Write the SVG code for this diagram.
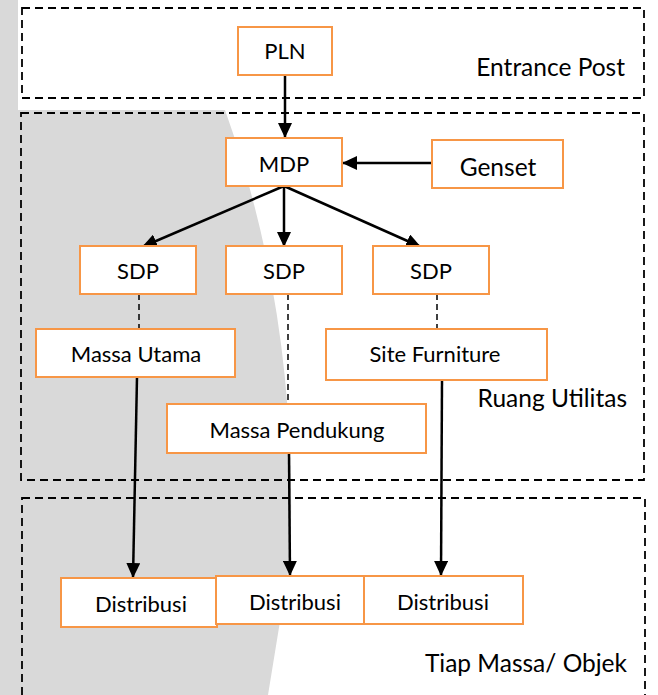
<svg xmlns="http://www.w3.org/2000/svg" width="658" height="695" viewBox="0 0 658 695">
<style>
.box{fill:#ffffff;stroke:#f79646;stroke-width:2}
.zone{fill:none;stroke:#000;stroke-width:1.8;stroke-dasharray:8 5}
.lbl{font-family:Lato,"Liberation Sans",sans-serif;font-size:22px;fill:#000;text-anchor:middle}
.big{font-family:Lato,"Liberation Sans",sans-serif;font-size:24.5px;fill:#000}
.end{text-anchor:end}
.arr{fill:none;stroke:#000;stroke-width:2.5;marker-end:url(#ah)}
.dash{fill:none;stroke:#000;stroke-width:1.5;stroke-dasharray:6 4}
</style>
<defs>
<marker id="ah" markerUnits="userSpaceOnUse" markerWidth="16" markerHeight="14" refX="15" refY="7" orient="auto">
<path d="M0,0 L15,7 L0,14 Z" fill="#000"/>
</marker>
</defs>
<rect x="0" y="0" width="658" height="695" fill="#ffffff"/>
<path id="watermark" d="M0,0 L18,0 L18,110 L225,110 Q300,320 290,560 L268,695 L0,695 Z" fill="#d9d9d9"/>
<g id="zones">
<rect class="zone" x="22" y="8" width="622" height="90"/>
<rect class="zone" x="21" y="113" width="623" height="367"/>
<rect class="zone" x="22" y="498" width="623" height="210"/>
<text class="big end" x="625" y="76">Entrance Post</text>
<text class="big end" x="627" y="407">Ruang Utilitas</text>
<text class="big end" x="627" y="672">Tiap Massa/ Objek</text>
</g>
<g id="connectors">
<line class="arr" x1="285" y1="75" x2="285" y2="138"/>
<line class="arr" x1="432" y1="163" x2="342" y2="163"/>
<line class="arr" x1="284" y1="186" x2="142" y2="247"/>
<line class="arr" x1="284" y1="186" x2="284" y2="247"/>
<line class="arr" x1="284" y1="186" x2="421" y2="247"/>
<line class="dash" x1="139" y1="294" x2="139" y2="329"/>
<line class="dash" x1="288" y1="294" x2="288" y2="404"/>
<line class="dash" x1="437" y1="294" x2="437" y2="329"/>
<line class="arr" x1="137" y1="377" x2="133" y2="578"/>
<line class="arr" x1="289" y1="453" x2="290" y2="576"/>
<line class="arr" x1="442" y1="380" x2="441" y2="576"/>
</g>
<g id="pln"><rect class="box" x="238" y="27" width="94" height="48"/><text class="lbl" x="285" y="59">PLN</text></g>
<g id="mdp"><rect class="box" x="226" y="138" width="116" height="48"/><text class="lbl" x="284" y="172">MDP</text></g>
<g id="genset"><rect class="box" x="432" y="140" width="131" height="48"/><text class="big" x="498" y="176" text-anchor="middle">Genset</text></g>
<g id="sdp1"><rect class="box" x="80" y="246" width="116" height="48"/><text class="lbl" x="138" y="279">SDP</text></g>
<g id="sdp2"><rect class="box" x="226" y="246" width="116" height="48"/><text class="lbl" x="284" y="279">SDP</text></g>
<g id="sdp3"><rect class="box" x="373" y="246" width="116" height="48"/><text class="lbl" x="431" y="279">SDP</text></g>
<g id="massa-utama"><rect class="box" x="36" y="329" width="199" height="48"/><text class="lbl" x="136" y="362">Massa Utama</text></g>
<g id="site-furniture"><rect class="box" x="326" y="329" width="221" height="51"/><text class="lbl" x="435" y="362">Site Furniture</text></g>
<g id="massa-pendukung"><rect class="box" x="167" y="404" width="259" height="49"/><text class="lbl" x="297" y="438">Massa Pendukung</text></g>
<g id="distribusi1"><rect class="box" x="61" y="578" width="156" height="49"/><text class="lbl" x="141" y="612">Distribusi</text></g>
<g id="distribusi2"><rect class="box" x="216" y="576" width="148" height="48"/><text class="lbl" x="295" y="610">Distribusi</text></g>
<g id="distribusi3"><rect class="box" x="364" y="576" width="159" height="48"/><text class="lbl" x="443" y="610">Distribusi</text></g>
</svg>
